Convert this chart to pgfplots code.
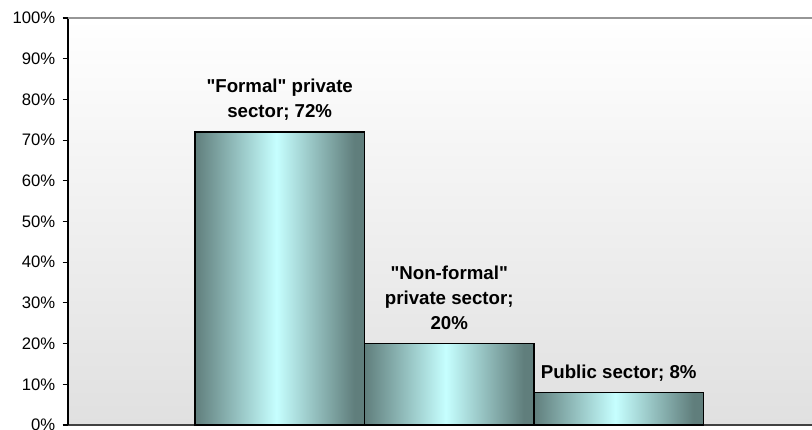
\documentclass[border=0pt]{standalone}
\usepackage{fontspec}
\setmainfont{Liberation Sans}
\usepackage{pgfplots}
\pgfplotsset{compat=1.18}
\usetikzlibrary{calc}
\definecolor{bardark}{RGB}{96,126,124}
\definecolor{barlight}{RGB}{198,255,255}
\definecolor{bgbottom}{RGB}{224,224,224}
\definecolor{topline}{RGB}{150,150,150}
\definecolor{botline}{RGB}{64,64,64}
\pgfdeclarehorizontalshading{barshade}{100bp}{color(0bp)=(bardark); color(25bp)=(bardark); color(49bp)=(barlight); color(72bp)=(bardark); color(75bp)=(bardark); color(100bp)=(bardark)}
\tikzset{lbl/.style={anchor=south, inner sep=0pt, text depth=0pt, yshift=10.5pt, align=center, font=\fontsize{14pt}{18.75pt}\selectfont\bfseries}}
\begin{document}
\begin{tikzpicture}
\begin{axis}[
  name=ax,
  scale only axis,
  width=558pt, height=305.25pt,
  xmin=-1.249, xmax=3.14, ymin=0, ymax=100,
  axis lines=left,
  axis line style={-},
  x axis line style={draw=botline, line width=1.5pt},
  y axis line style={draw=black, line width=1pt},
  axis background/.style={shade, top color=white, bottom color=bgbottom},
  xtick=\empty,
  ytick={0,10,...,100},
  yticklabel={\pgfmathprintnumber{\tick}\%},
  /pgf/number format/assume math mode=true,
  tick label style={font=\fontsize{12.5pt}{14pt}\selectfont},
  yticklabel style={xshift=-2pt},
  tick align=outside,
  major tick length=4pt,
  major tick style={black, line width=0.8pt},
  clip=false,
]
\addplot[ybar, bar width=1, bar shift=0pt, draw=black, line width=0.9pt, shade, shading=barshade] coordinates {(0,72)};
\addplot[ybar, bar width=1, bar shift=0pt, draw=black, line width=0.9pt, shade, shading=barshade] coordinates {(1,20)};
\addplot[ybar, bar width=1, bar shift=0pt, draw=black, line width=0.9pt, shade, shading=barshade] coordinates {(2,8)};
\draw[topline, line width=1.5pt] (rel axis cs:0,1) -- (rel axis cs:1,1);
\node[lbl] at (axis cs:0,72) {\textquotedbl Formal\textquotedbl{} private\\sector; 72\%};
\node[lbl] at (axis cs:1,20) {\textquotedbl Non-formal\textquotedbl\\private sector;\\20\%};
\node[lbl] at (axis cs:2,8) {Public sector; 8\%};
\end{axis}
\pgfresetboundingbox
\path[use as bounding box] ($(ax.south west)+(-51pt,-3.75pt)$) rectangle ($(ax.north east)+(0pt,13.5pt)$);
\end{tikzpicture}
\end{document}
